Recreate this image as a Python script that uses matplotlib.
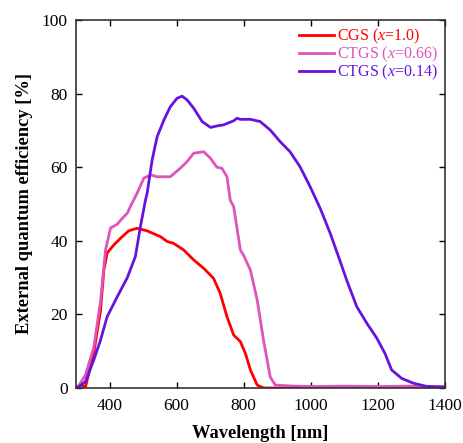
import matplotlib
matplotlib.use("Agg")
import matplotlib.pyplot as plt

plt.rcParams['font.family'] = ['Liberation Serif', 'DejaVu Serif']
plt.rcParams['mathtext.fontset'] = 'custom'
plt.rcParams['mathtext.rm'] = 'Liberation Serif'
plt.rcParams['mathtext.it'] = 'Liberation Serif:italic'

# CGS (x=1.0)
cgs_wl = [300, 304, 314, 328, 353, 373, 383, 393, 413, 433, 457, 482, 512, 552, 572,
          591, 621, 651, 681, 710, 730, 750, 770, 790, 805, 820, 840, 859, 900, 1000,
          1100, 1200, 1300, 1400]
cgs_eqe = [0.0, 0.4, 0.9, 0.2, 9.5, 21, 32, 36.7, 38.9, 40.7, 42.7, 43.4, 42.7, 41.1, 39.8,
           39.3, 37.5, 34.8, 32.5, 29.8, 25.7, 19.4, 14.4, 12.6, 9.4, 4.9, 0.8, 0.0, 0.0, 0.0,
           0.0, 0.0, 0.0, 0.0]

# CTGS (x=0.66)
ctgs66_wl = [300, 304, 328, 353, 373, 388, 403, 423, 433, 453, 462, 482, 502, 522, 542,
             581, 611, 631, 651, 681, 701, 720, 735, 750, 760, 770, 790, 800, 820, 840,
             859, 879, 894, 950, 1000, 1100, 1200, 1300, 1400]
ctgs66_eqe = [0.0, 0.0, 3.5, 11, 23.5, 37.5, 43.5, 44.5, 45.6, 47.5, 49.3, 52.9, 57, 57.9, 57.4,
              57.4, 59.7, 61.5, 63.8, 64.2, 62.4, 60, 59.7, 57.4, 51, 49.3, 37.5, 36.0, 32, 24,
              13, 3, 0.8, 0.5, 0.4, 0.5, 0.4, 0.5, 0.4]

# CTGS (x=0.14)
ctgs14_wl = [300, 304, 328, 353, 373, 393, 423, 453, 477, 492, 507, 512, 527, 542, 562,
             581, 601, 616, 631, 651, 676, 701, 720, 740, 770, 780, 790, 820, 849, 879,
             909, 938, 968, 998, 1028, 1058, 1088, 1107, 1137, 1167, 1197, 1221, 1241, 1271,
             1306, 1346, 1400]
ctgs14_eqe = [0.0, 0.0, 1.7, 7.6, 13, 19.4, 24.8, 30.0, 35.7, 43.8, 51, 52.9, 62, 68.3, 72.8,
              76.4, 78.7, 79.3, 78.3, 76, 72.4, 70.8, 71.2, 71.5, 72.6, 73.3, 73, 73, 72.4, 70.1,
              66.9, 64.2, 60.1, 54.7, 48.8, 42, 34.3, 29.3, 22.1, 17.6, 13.5, 9.4, 4.9, 2.6,
              1.3, 0.4, 0.2]

labels = ['CGS ($x$=1.0)', 'CTGS ($x$=0.66)', 'CTGS ($x$=0.14)']
colors = ['#ff0000', '#dd55bb', '#6614dd']

fig = plt.figure(figsize=(4.64, 4.43), dpi=100)
ax = fig.add_axes([0.1638, 0.1242, 0.7952, 0.8307])

series = [(cgs_wl, cgs_eqe), (ctgs66_wl, ctgs66_eqe), (ctgs14_wl, ctgs14_eqe)]
for (wl, eqe), lab, c in zip(series, labels, colors):
    ax.plot(wl, eqe, color=c, lw=2.0, label=lab)

ax.set_xlim(300, 1400)
ax.set_ylim(0, 100)
ax.set_xticks([400, 600, 800, 1000, 1200, 1400])
ax.set_yticks([0, 20, 40, 60, 80, 100])
ax.tick_params(direction='in', top=True, right=True, labelsize=12.5, length=4, width=1)
ax.tick_params(axis='x', pad=7)
ax.tick_params(axis='y', pad=6)
for s in ax.spines.values():
    s.set_linewidth(1.2)
    s.set_color('#333333')

ax.set_xlabel('Wavelength [nm]', fontsize=13.3, fontweight='bold', labelpad=8)
ax.set_ylabel('External quantum efficiency [%]', fontsize=13.3, fontweight='bold', labelpad=6)

leg = ax.legend(loc='upper right', bbox_to_anchor=(1.011, 1.012), frameon=False, fontsize=11.5,
                handlelength=2.2, handletextpad=0.2, labelspacing=-0.08, borderaxespad=0.3)
for t, c in zip(leg.get_texts(), colors):
    t.set_color(c)

fig.savefig('out.png', dpi=100)
